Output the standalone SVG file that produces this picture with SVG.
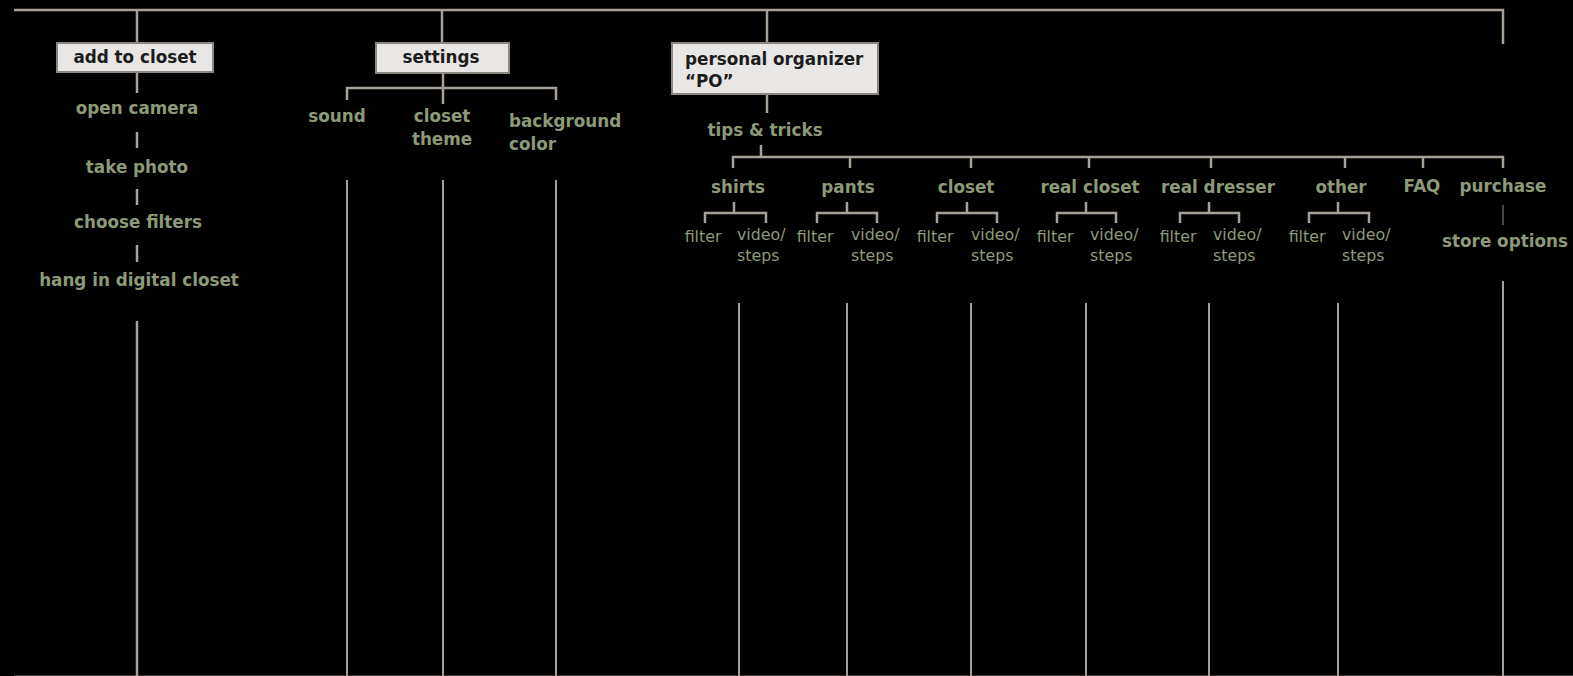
<svg xmlns="http://www.w3.org/2000/svg" width="1573" height="676" viewBox="0 0 1573 676">
<style>
.bg{fill:#000}
.ln{stroke:#a8a096;stroke-width:2.5;fill:none;stroke-linecap:butt}
.lnt{stroke:#a8a096;stroke-width:2;fill:none}
.dim{stroke:#4a4744;stroke-width:2;fill:none}
.box{fill:#e8e7e5;stroke:#8c8680;stroke-width:2}
.bt{font-family:"DejaVu Sans",sans-serif;font-weight:bold;font-size:16.8px;fill:#1c1c1c}
.t{font-family:"DejaVu Sans",sans-serif;font-weight:bold;font-size:16.8px;fill:#8d9a78}
.s{font-family:"DejaVu Sans",sans-serif;font-size:15.8px;fill:#8d9a78}
.c{text-anchor:middle}
</style>
<rect class="bg" x="0" y="0" width="1573" height="676"/>

<g id="connectors">
  <path class="ln" d="M14 10 H1503 V44"/>
  <path d="M14 675.5 H1573" stroke="#3a3836" stroke-width="1"/>
  <path class="ln" d="M137 10 V43 M137 73 V93 M137 132 V148 M137 189 V205 M137 245 V262 M137 321 V676"/>
  <path class="ln" d="M442 10 V43 M443 73 V104 M347 100 V88 H556 V100"/>
  <path class="lnt" d="M347 180 V676 M443 180 V676 M556 180 V676"/>
  <path class="ln" d="M767 10 V43 M767 94 V113 M761 145 V157 M733 168 V157 H1503 V168 M850 157 V168 M971 157 V168 M1089 157 V168 M1211 157 V168 M1345 157 V168 M1423 157 V168"/>
  <path class="ln" d="M734 202 V213 M705 223 V213 H766 V223 M847 202 V213 M817 223 V213 H877 V223 M967 202 V213 M937 223 V213 H997 V223 M1086 202 V213 M1057 223 V213 H1116 V223 M1209 202 V213 M1180 223 V213 H1239 V223 M1338 202 V213 M1309 223 V213 H1369 V223"/>
  <path class="dim" d="M1503 205 V225"/>
  <path class="lnt" d="M739 303 V676 M847 303 V676 M971 303 V676 M1086 303 V676 M1209 303 V676 M1338 303 V676 M1503 281 V676"/>
</g>

<g id="add-to-closet">
  <rect class="box" x="57" y="43" width="156" height="29"/>
  <text class="bt c" x="135" y="63">add to closet</text>
</g>
<g id="open-camera"><text class="t c" x="137" y="114">open camera</text></g>
<g id="take-photo"><text class="t c" x="137" y="173">take photo</text></g>
<g id="choose-filters"><text class="t c" x="138" y="228">choose filters</text></g>
<g id="hang-in-digital-closet"><text class="t c" x="139" y="286">hang in digital closet</text></g>

<g id="settings">
  <rect class="box" x="376" y="43" width="133" height="30"/>
  <text class="bt c" x="441" y="63">settings</text>
</g>
<g id="sound"><text class="t c" x="337" y="122">sound</text></g>
<g id="closet-theme"><text class="t c" x="442" y="122">closet</text><text class="t c" x="442" y="145">theme</text></g>
<g id="background-color"><text class="t" x="509" y="127">background</text><text class="t" x="509" y="150">color</text></g>

<g id="personal-organizer">
  <rect class="box" x="672" y="43" width="206" height="51"/>
  <text class="bt" x="685" y="65">personal organizer</text>
  <text class="bt" x="685" y="87">“PO”</text>
</g>
<g id="tips-tricks"><text class="t c" x="765" y="136">tips &amp; tricks</text></g>

<g id="shirts"><text class="t c" x="738" y="193">shirts</text>
  <text class="s c" x="703" y="242">filter</text><text class="s" x="737" y="240">video/</text><text class="s" x="737" y="261">steps</text></g>
<g id="pants"><text class="t c" x="848" y="193">pants</text>
  <text class="s c" x="815" y="242">filter</text><text class="s" x="851" y="240">video/</text><text class="s" x="851" y="261">steps</text></g>
<g id="closet"><text class="t c" x="966" y="193">closet</text>
  <text class="s c" x="935" y="242">filter</text><text class="s" x="971" y="240">video/</text><text class="s" x="971" y="261">steps</text></g>
<g id="real-closet"><text class="t c" x="1090" y="193">real closet</text>
  <text class="s c" x="1055" y="242">filter</text><text class="s" x="1090" y="240">video/</text><text class="s" x="1090" y="261">steps</text></g>
<g id="real-dresser"><text class="t c" x="1218" y="193">real dresser</text>
  <text class="s c" x="1178" y="242">filter</text><text class="s" x="1213" y="240">video/</text><text class="s" x="1213" y="261">steps</text></g>
<g id="other"><text class="t c" x="1341" y="193">other</text>
  <text class="s c" x="1307" y="242">filter</text><text class="s" x="1342" y="240">video/</text><text class="s" x="1342" y="261">steps</text></g>
<g id="faq"><text class="t c" x="1422" y="192">FAQ</text></g>
<g id="purchase"><text class="t c" x="1503" y="192">purchase</text></g>
<g id="store-options"><text class="t c" x="1505" y="247">store options</text></g>
</svg>
